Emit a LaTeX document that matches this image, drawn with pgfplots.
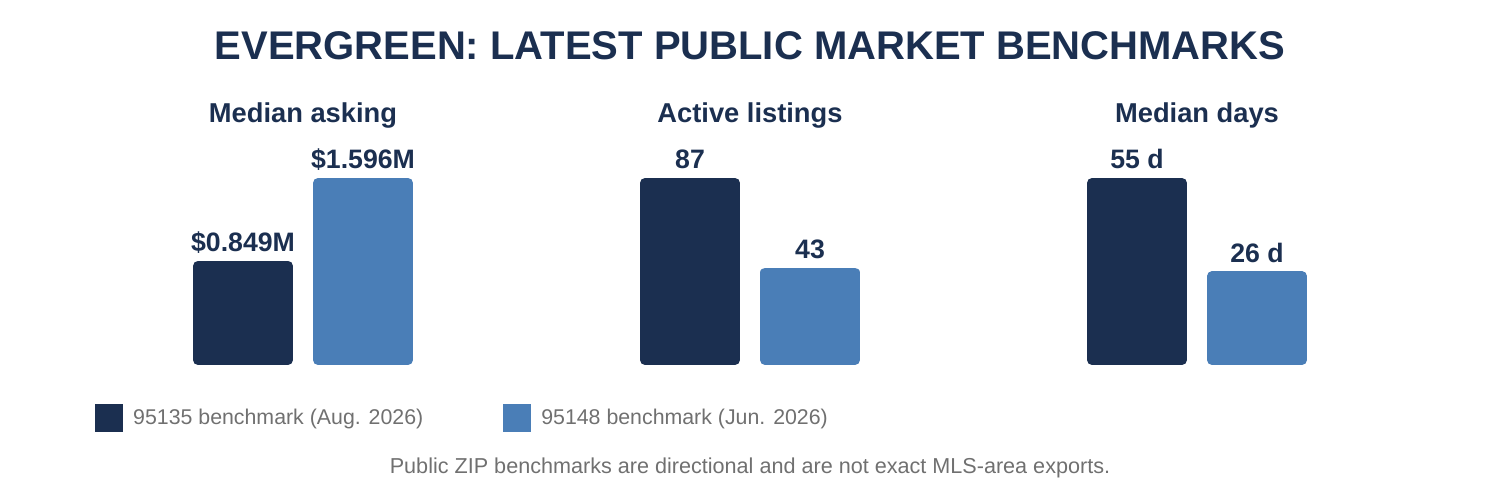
\documentclass[border=0pt]{standalone}
\usepackage{pgfplots}
\pgfplotsset{compat=1.18}
\usepackage{fontspec}
\setmainfont{Liberation Sans}
\definecolor{navy}{HTML}{1B2F50}
\definecolor{steel}{HTML}{4A7EB7}
\definecolor{txtgray}{HTML}{707070}
\pgfplotsset{
  panel/.style={
    scale only axis, width=240pt, height=177pt, hide axis, clip=false,
    xmin=-0.5, xmax=1.5, ymin=0,
    ybar, bar width=90pt, bar shift=0pt,
    nodes near coords, point meta=explicit symbolic,
    every node near coord/.append style={anchor=base, inner sep=0pt, yshift=14pt,
      font=\fontsize{26.67}{30}\selectfont\bfseries, text=navy},
    title style={at={(0.5,1)}, anchor=base, yshift=54.5pt,
      font=\fontsize{27.3}{30}\selectfont\bfseries, text=navy, inner sep=0pt},
  },
  bar1/.style={draw=navy, fill=navy, line width=10pt, line join=round},
  bar2/.style={draw=steel, fill=steel, line width=10pt, line join=round},
}
\begin{document}
\begin{tikzpicture}
\path[use as bounding box] (0,0) rectangle (1500pt,500pt);
\node[anchor=base, font=\fontsize{40}{48}\selectfont\bfseries, text=navy, inner sep=0pt]
  at (750pt,440pt) {EVERGREEN: LATEST PUBLIC MARKET BENCHMARKS};
\begin{axis}[panel, at={(183pt,140pt)}, ymax=1.596, title={Median asking},
  legend columns=2,
  legend image code/.code={\fill[#1, draw=none] (0pt,-14pt) rectangle (28pt,14pt);},
  legend style={at={(-0.3667,-0.3277)}, anchor=west, draw=none, fill=none, inner sep=0pt,
    font=\fontsize{21.33}{24}\selectfont, text=txtgray,
    /tikz/every odd column/.append style={column sep=8pt},
    /tikz/every even column/.append style={column sep=78pt}},
  ]
\addplot[bar1] coordinates {(0,0.849) [\$0.849M]};
\addplot[bar2] coordinates {(1,1.596) [\$1.596M]};
\legend{95135 benchmark (Aug. 2026), 95148 benchmark (Jun. 2026)}
\end{axis}
\begin{axis}[panel, at={(630pt,140pt)}, ymax=87, title={Active listings}]
\addplot[bar1] coordinates {(0,87) [87]};
\addplot[bar2] coordinates {(1,43) [43]};
\end{axis}
\begin{axis}[panel, at={(1077pt,140pt)}, ymax=55, title={Median days}]
\addplot[bar1] coordinates {(0,55) [55 d]};
\addplot[bar2] coordinates {(1,26) [26 d]};
\end{axis}
\node[anchor=base, font=\fontsize{21.6}{24}\selectfont, text=txtgray, inner sep=0pt]
  at (750pt,26.5pt) {Public ZIP benchmarks are directional and are not exact MLS-area exports.};
\end{tikzpicture}
\end{document}
